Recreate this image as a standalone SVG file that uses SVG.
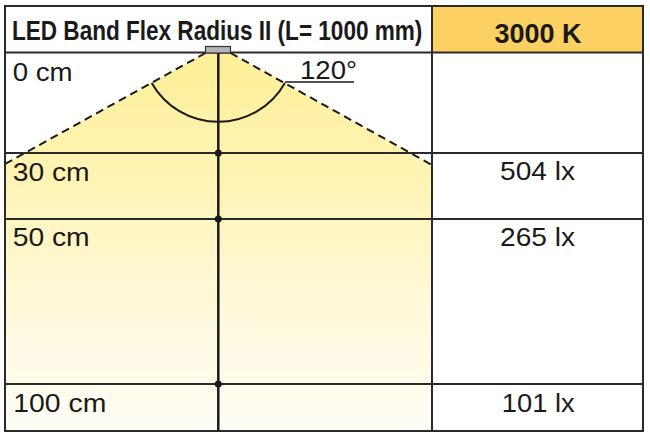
<svg xmlns="http://www.w3.org/2000/svg" width="650" height="437" viewBox="0 0 650 437">
<defs>
<linearGradient id="light" gradientUnits="userSpaceOnUse" x1="0" y1="53" x2="0" y2="431">
<stop offset="0" stop-color="#FFEF98"/>
<stop offset="0.35" stop-color="#FFF4B6"/>
<stop offset="0.7" stop-color="#FFF9DC"/>
<stop offset="1" stop-color="#FFFEF6"/>
</linearGradient>
<style>
.grid{stroke:#2a2a2a;stroke-width:2;fill:none}
.lbl{font-family:"Liberation Sans",Arial,sans-serif;font-size:25px;fill:#1a1a1a}
.val{font-family:"Liberation Sans",Arial,sans-serif;font-size:25px;fill:#1a1a1a;text-anchor:middle}
.hdr{font-family:"Liberation Sans",Arial,sans-serif;font-weight:bold;fill:#1a1a1a}
.dash{stroke:#1a1a1a;stroke-width:2;stroke-dasharray:8 5;fill:none}
.axis{stroke:#1a1a1a;stroke-width:2.5;fill:none}
.dot{fill:#1a1a1a}
</style>
</defs>
<rect width="650" height="437" fill="#ffffff"/>
<g id="light-cone">
<polygon points="205.5,53 230.5,53 432,165 432,431 5,431 5,164" fill="url(#light)"/>
</g>
<g id="header-cell">
<rect x="432" y="6" width="211" height="46.5" fill="#FCD062"/>
<text class="hdr" transform="translate(12,39.5) scale(0.806,1)" x="0" y="0" font-size="28">LED Band Flex Radius II (L= 1000 mm)</text>
<text class="hdr" x="538" y="42.5" font-size="27" text-anchor="middle">3000 K</text>
</g>
<g id="grid">
<rect class="grid" x="5" y="6" width="638" height="425" stroke="#444"/>
<line class="grid" x1="5" y1="52.5" x2="643" y2="52.5"/>
<line class="grid" x1="5" y1="153" x2="643" y2="153"/>
<line class="grid" x1="5" y1="219" x2="643" y2="219"/>
<line class="grid" x1="5" y1="384" x2="643" y2="384"/>
<line class="grid" x1="432" y1="6" x2="432" y2="431" stroke="#444"/>
</g>
<g id="connectors">
<line class="axis" x1="218.3" y1="53" x2="218.3" y2="431"/>
<line class="dash" x1="205.5" y1="53" x2="5" y2="164"/>
<line class="dash" x1="230.5" y1="53" x2="432" y2="165"/>
<path d="M151.7,83 A76.5,76.5 0 0 0 284.9,83" stroke="#1a1a1a" stroke-width="2" fill="none"/>
<line x1="284.9" y1="82" x2="354" y2="82" stroke="#1a1a1a" stroke-width="1.5"/>
<circle class="dot" cx="218.3" cy="153" r="3.5"/>
<circle class="dot" cx="218.3" cy="219" r="3.5"/>
<circle class="dot" cx="218.3" cy="384" r="3.5"/>
</g>
<g id="lamp">
<rect x="205.5" y="46.5" width="25" height="6.5" fill="#b4b4b4" stroke="#333" stroke-width="1.2"/>
</g>
<g id="angle-label">
<text class="lbl" x="300" y="79" font-size="27" textLength="57" lengthAdjust="spacingAndGlyphs">120°</text>
</g>
<g id="row-0">
<text class="lbl" x="12.7" y="81" textLength="60" lengthAdjust="spacingAndGlyphs">0 cm</text>
</g>
<g id="row-30">
<text class="lbl" x="12.7" y="180.5" textLength="77" lengthAdjust="spacingAndGlyphs">30 cm</text>
<text class="val" x="537.5" y="180" textLength="75" lengthAdjust="spacingAndGlyphs">504 lx</text>
</g>
<g id="row-50">
<text class="lbl" x="12.7" y="246" textLength="77" lengthAdjust="spacingAndGlyphs">50 cm</text>
<text class="val" x="537.5" y="246" textLength="75" lengthAdjust="spacingAndGlyphs">265 lx</text>
</g>
<g id="row-100">
<text class="lbl" x="13.3" y="411.5" textLength="93" lengthAdjust="spacingAndGlyphs">100 cm</text>
<text class="val" x="538.3" y="411.5" textLength="73" lengthAdjust="spacingAndGlyphs">101 lx</text>
</g>
</svg>
